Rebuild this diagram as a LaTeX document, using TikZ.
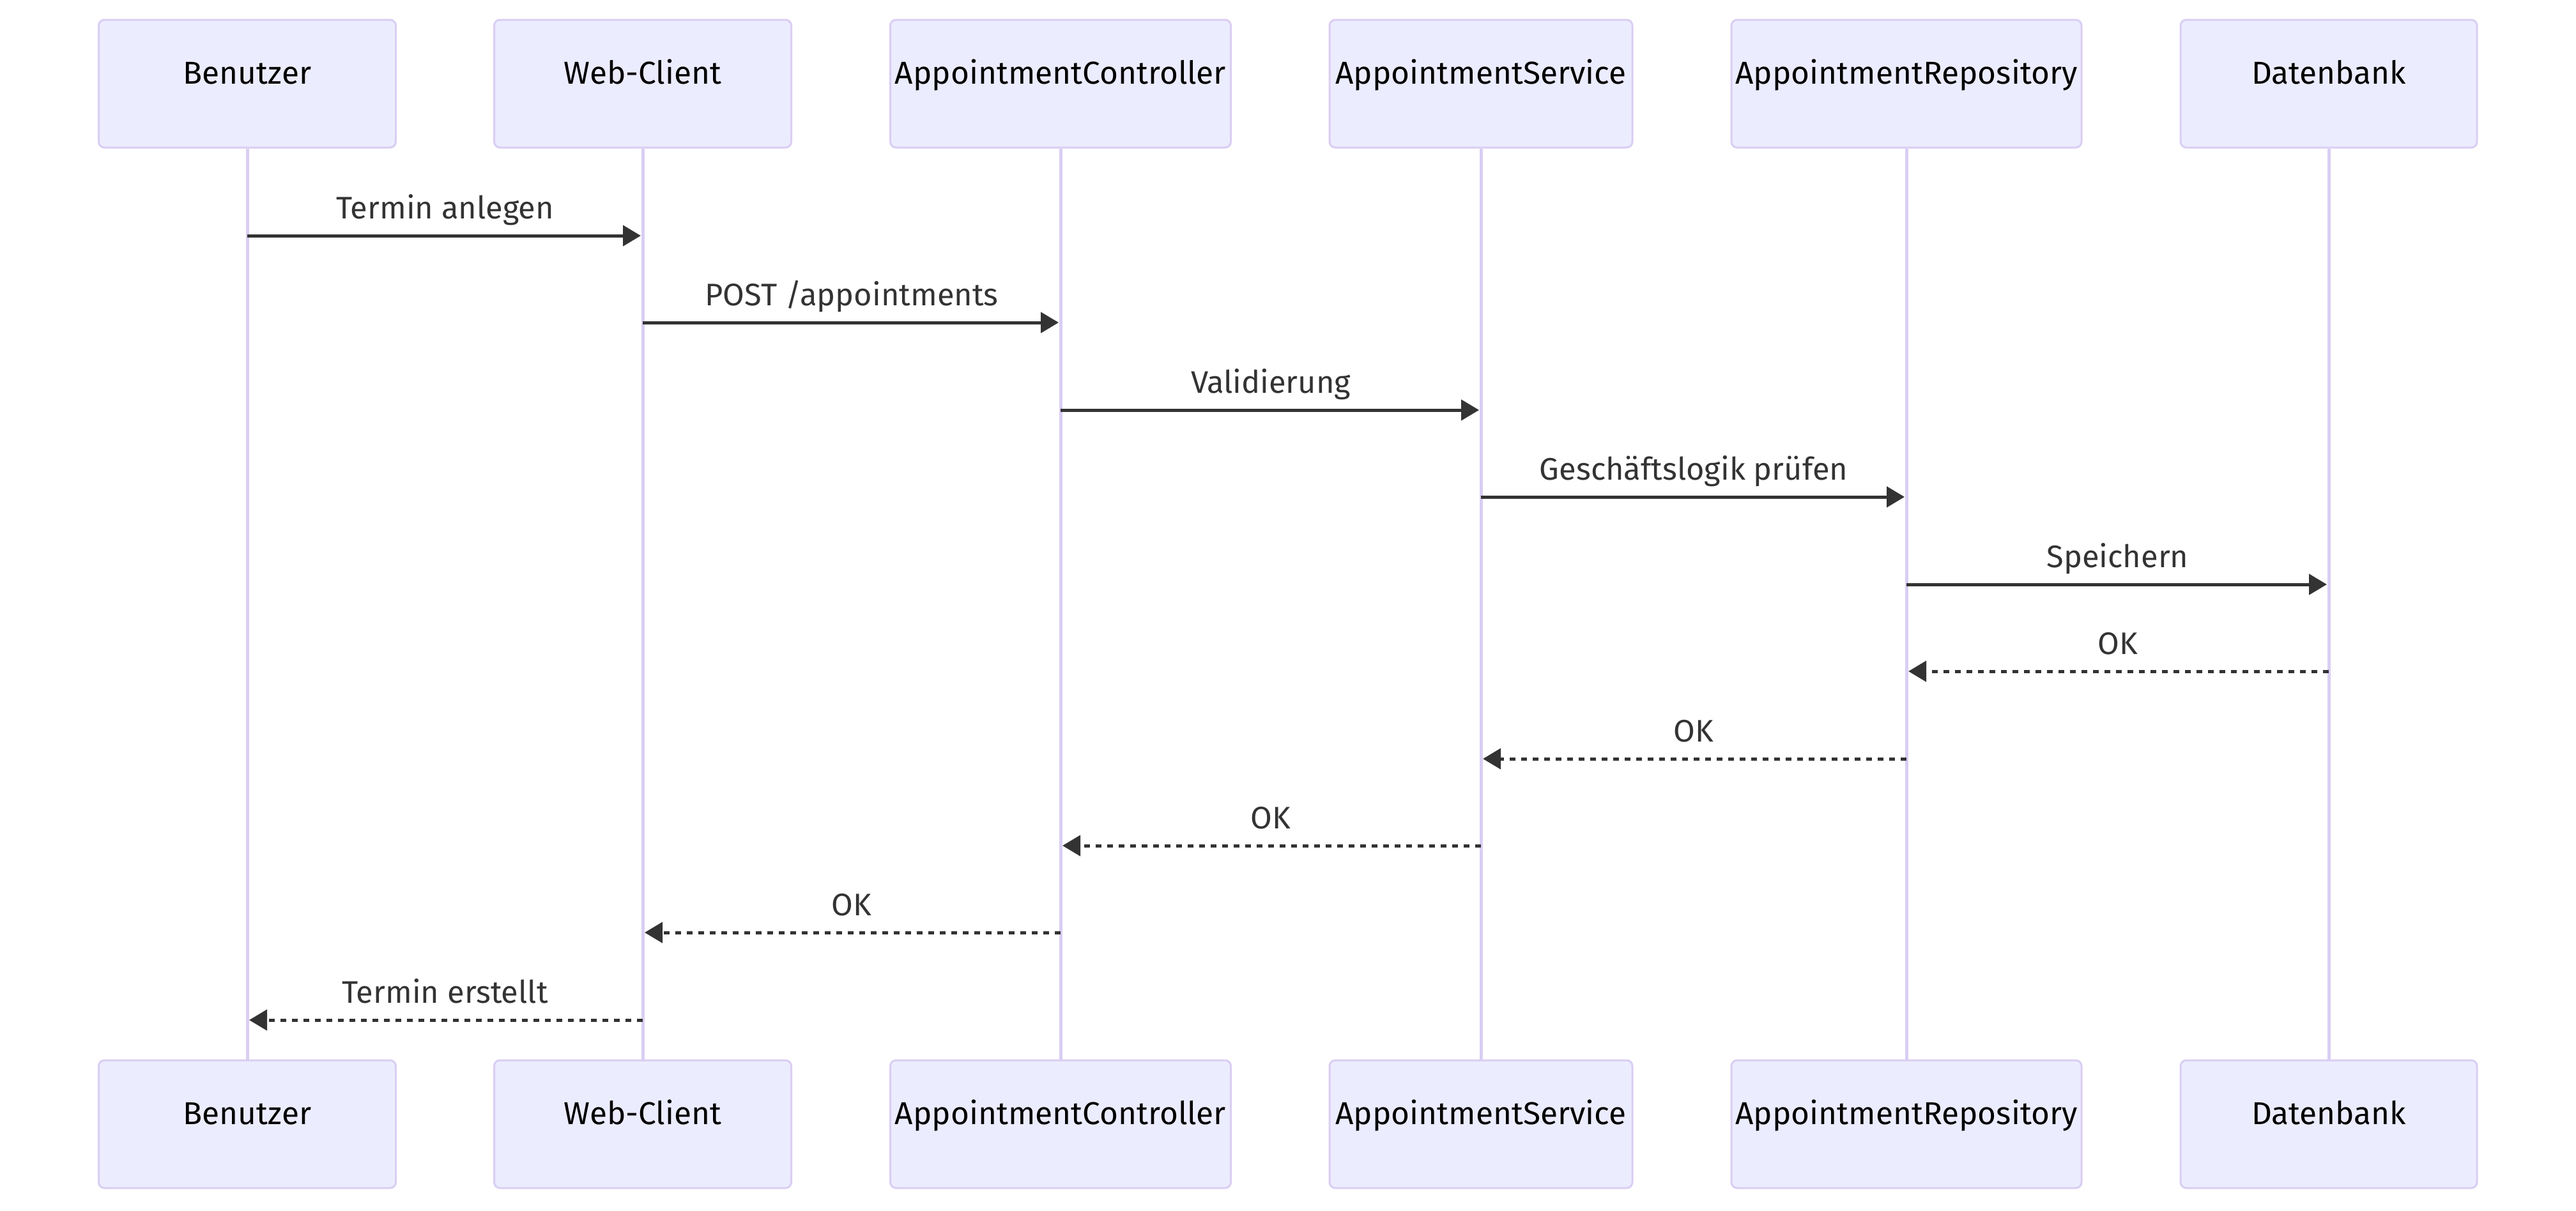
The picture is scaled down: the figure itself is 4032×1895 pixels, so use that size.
\documentclass[tikz,border=0pt]{standalone}
\usepackage{fontspec}
\setmainfont{Fira Sans}
\usetikzlibrary{arrows.meta}

% mermaid-like colours
\definecolor{actorfill}{HTML}{ECECFF}
\definecolor{actorline}{HTML}{DACEF3}
\definecolor{msgline}{HTML}{333333}

\tikzset{
    actor/.style={draw=actorline, line width=0.75pt, fill=actorfill,
        rounded corners=2.25pt, minimum height=50pt, inner sep=0pt,
        text height=0pt, text depth=0pt, text=black,
        font=\fontsize{12.4}{15}\selectfont},
    lifeline/.style={draw=actorline, line width=1.25pt},
    call/.style={draw=msgline, line width=1.25pt, shorten >=0.75pt,
        -{Triangle[length=7pt,width=8pt]}},
    reply/.style={call, dash pattern=on 2.25pt off 2.25pt},
    msglabel/.style={anchor=base, yshift=6.75pt, text=msgline,
        font=\fontsize{12.2}{15}\selectfont}
}

\begin{document}
\begin{tikzpicture}[x=0.25pt, y=-0.25pt]

    % Picture size (pixels of the reference)
    \useasboundingbox (0,0) rectangle (4032,1895);

    % Participants on top
    \node[actor, minimum width=116.25pt] (benutzer)   at (387,131)  {Benutzer};
    \node[actor, minimum width=116.25pt] (client)     at (1006,131) {Web-Client};
    \node[actor, minimum width=133.25pt] (controller) at (1660,131) {AppointmentController};
    \node[actor, minimum width=118.5pt]  (service)    at (2318,131) {AppointmentService};
    \node[actor, minimum width=137pt]    (repository) at (2984,131) {AppointmentRepository};
    \node[actor, minimum width=116pt]    (datenbank)  at (3645,131) {Datenbank};

    % Participants at the bottom
    \node[actor, minimum width=116.25pt] (benutzer-b)   at (387,1760)  {Benutzer};
    \node[actor, minimum width=116.25pt] (client-b)     at (1006,1760) {Web-Client};
    \node[actor, minimum width=133.25pt] (controller-b) at (1660,1760) {AppointmentController};
    \node[actor, minimum width=118.5pt]  (service-b)    at (2318,1760) {AppointmentService};
    \node[actor, minimum width=137pt]    (repository-b) at (2984,1760) {AppointmentRepository};
    \node[actor, minimum width=116pt]    (datenbank-b)  at (3645,1760) {Datenbank};

    % Lifelines
    \draw[lifeline] (benutzer.south)   -- (benutzer-b.north);
    \draw[lifeline] (client.south)     -- (client-b.north);
    \draw[lifeline] (controller.south) -- (controller-b.north);
    \draw[lifeline] (service.south)    -- (service-b.north);
    \draw[lifeline] (repository.south) -- (repository-b.north);
    \draw[lifeline] (datenbank.south)  -- (datenbank-b.north);

    % Rows of the messages
    \coordinate (r1)  at (0,369);
    \coordinate (r2)  at (0,505);
    \coordinate (r3)  at (0,642);
    \coordinate (r4)  at (0,778);
    \coordinate (r5)  at (0,915);
    \coordinate (r6)  at (0,1051);
    \coordinate (r7)  at (0,1188);
    \coordinate (r8)  at (0,1324);
    \coordinate (r9)  at (0,1460);
    \coordinate (r10) at (0,1597);

    % Requests
    \draw[call] (benutzer |- r1) -- node[msglabel] {Termin anlegen} (client |- r1);
    \draw[call] (client |- r2) -- node[msglabel] {POST /appointments} (controller |- r2);
    \draw[call] (controller |- r3) -- node[msglabel] {Validierung} (service |- r3);
    \draw[call] (service |- r4) -- node[msglabel] {Geschäftslogik prüfen} (repository |- r4);
    \draw[call] (repository |- r5) -- node[msglabel] {Speichern} (datenbank |- r5);

    % Answers
    \draw[reply] (datenbank |- r6) -- node[msglabel] {OK} (repository |- r6);
    \draw[reply] (repository |- r7) -- node[msglabel] {OK} (service |- r7);
    \draw[reply] (service |- r8) -- node[msglabel] {OK} (controller |- r8);
    \draw[reply] (controller |- r9) -- node[msglabel] {OK} (client |- r9);
    \draw[reply] (client |- r10) -- node[msglabel] {Termin erstellt} (benutzer |- r10);

\end{tikzpicture}
\end{document}
